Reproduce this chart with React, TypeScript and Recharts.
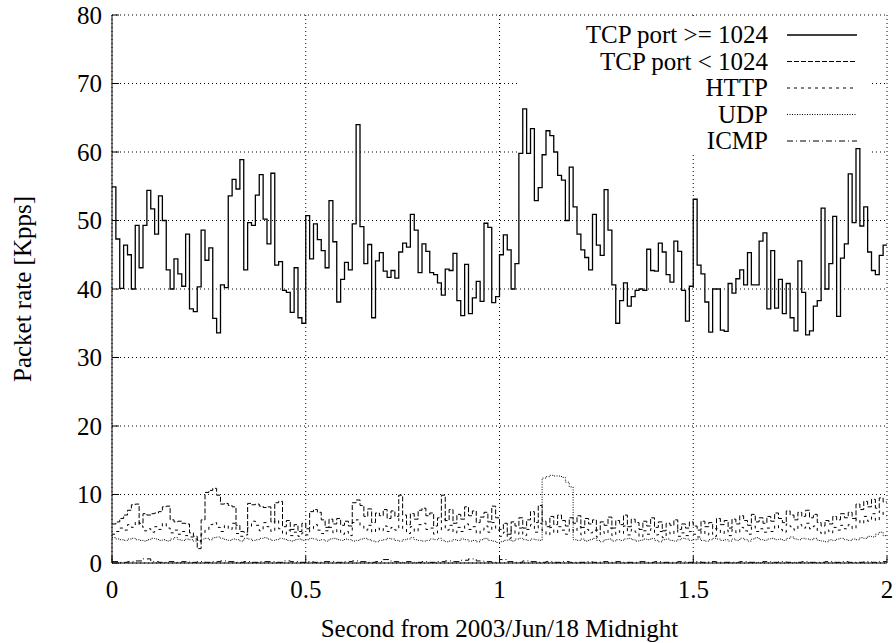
import { LineChart, Line, XAxis, YAxis, CartesianGrid, ReferenceArea } from 'recharts';

// packet rate, 10 ms bins (Kpps)
const tcpHigh = [
  54.9, 47.3, 40.1, 46.4, 45.0, 40.0, 49.3, 43.1, 49.3, 54.4,
  51.7, 48.0, 53.6, 50.0, 42.8, 40.0, 44.4, 42.2, 40.4, 48.0,
  37.1, 36.7, 40.3, 48.6, 44.2, 46.0, 35.7, 33.6, 40.6, 40.2,
  53.6, 56.0, 54.6, 58.9, 42.8, 49.7, 49.3, 53.7, 56.7, 50.2,
  46.6, 56.9, 43.5, 44.0, 39.8, 39.5, 36.6, 43.1, 35.8, 35.0,
  50.7, 44.4, 49.5, 47.2, 45.6, 43.1, 52.9, 46.9, 38.1, 41.4,
  43.9, 42.8, 49.5, 64.0, 49.1, 43.7, 46.5, 35.8, 44.1, 45.3,
  42.6, 41.7, 42.7, 41.6, 45.4, 46.7, 46.1, 50.9, 48.6, 42.4,
  46.6, 45.5, 42.4, 42.1, 40.9, 39.1, 42.9, 42.7, 45.2, 38.3,
  36.1, 43.6, 36.4, 38.7, 41.1, 38.2, 49.6, 49.0, 38.0, 38.9,
  45.0, 47.9, 45.7, 40.0, 43.7, 59.8, 66.3, 59.8, 63.4, 52.9,
  54.8, 59.6, 63.1, 62.4, 60.0, 56.6, 55.9, 50.0, 57.8, 52.0,
  48.0, 45.7, 44.6, 42.8, 50.9, 46.4, 44.9, 54.5, 48.6, 40.6,
  35.0, 38.3, 40.9, 37.5, 38.9, 39.8, 40.0, 39.8, 45.8, 42.7,
  42.6, 46.7, 45.4, 42.1, 41.0, 47.0, 45.5, 39.8, 35.3, 40.4,
  53.1, 43.5, 42.2, 38.1, 33.7, 40.0, 40.0, 34.0, 33.8, 40.8,
  39.4, 41.5, 42.8, 40.6, 45.3, 40.6, 40.6, 47.0, 48.2, 37.1,
  45.6, 37.2, 41.4, 36.4, 40.8, 35.8, 33.9, 44.1, 39.5, 33.3,
  33.9, 37.5, 38.3, 51.8, 40.0, 43.7, 50.6, 36.0, 44.5, 46.6,
  56.8, 49.7, 60.5, 49.2, 52.0, 45.4, 42.7, 42.1, 44.9, 46.4,
];

const tcpLow = [
  5.7, 6.0, 6.5, 7.0, 7.7, 8.5, 8.6, 5.8, 7.2, 7.0,
  7.2, 7.3, 7.5, 8.2, 8.3, 6.3, 6.0, 6.1, 5.8, 5.7,
  4.4, 3.9, 2.1, 6.3, 10.3, 10.6, 10.9, 9.9, 8.6, 8.7,
  8.4, 8.2, 5.5, 4.6, 4.5, 8.7, 8.5, 8.6, 8.3, 8.1,
  8.2, 6.0, 8.8, 9.0, 5.3, 6.2, 4.9, 5.6, 4.6, 5.8,
  5.0, 7.5, 7.8, 7.4, 6.3, 5.2, 6.4, 5.7, 6.5, 5.5,
  6.1, 5.4, 8.8, 9.2, 8.4, 6.8, 7.9, 5.9, 7.3, 6.9,
  7.8, 6.5, 7.6, 6.8, 9.9, 7.0, 5.6, 7.2, 6.4, 7.7,
  8.0, 6.9, 7.3, 5.4, 6.6, 9.9, 6.2, 7.8, 5.8, 7.1,
  6.4, 8.2, 6.9, 7.6, 5.9, 6.7, 7.4, 6.0, 8.3, 6.6,
  4.9, 5.8, 4.2, 6.0, 5.4, 6.6, 5.1, 6.3, 7.5, 5.9,
  8.4, 6.1, 5.3, 6.8, 5.6, 7.0, 6.2, 5.4, 6.6, 5.8,
  6.9, 5.2, 6.5, 5.7, 6.3, 4.8, 6.0, 5.5, 6.7, 5.1,
  6.2, 5.6, 7.0, 5.3, 6.4, 5.9, 4.9, 6.1, 5.4, 6.6,
  5.2, 6.0, 4.7, 5.8, 5.5, 6.3, 4.9, 5.7, 5.1, 6.0,
  5.4, 4.8, 6.1, 5.3, 5.9, 5.0, 6.5, 5.6, 6.2, 5.1,
  6.4, 5.7, 6.9, 6.2, 5.5, 7.1, 6.0, 6.6, 5.8, 6.8,
  6.1, 7.3, 6.5, 5.9, 7.6, 7.0, 6.3, 7.4, 6.8, 7.7,
  6.6, 7.1, 5.9, 5.4, 6.2, 5.7, 6.8, 6.3, 7.2, 6.6,
  7.4, 6.5, 8.6, 7.8, 9.0, 8.2, 9.3, 8.0, 9.5, 8.9,
];

const http = [
  4.2, 4.6, 5.1, 4.8, 5.6, 5.2, 6.0, 5.4, 4.7, 5.0,
  4.5, 5.3, 4.9, 5.8, 5.1, 4.4, 4.8, 4.2, 4.6, 4.0,
  3.8, 3.5, 3.1, 4.2, 4.8, 5.6, 5.9, 5.2, 4.6, 5.5,
  4.9, 5.8, 4.3, 3.9, 4.1, 5.2, 6.1, 5.5, 4.7, 5.9,
  5.3, 4.6, 6.2, 5.0, 4.2, 4.8, 4.0, 4.5, 3.9, 4.4,
  4.1, 5.0, 5.6, 4.8, 4.3, 4.7, 5.2, 4.4, 4.9, 4.2,
  4.6, 4.0, 5.9, 6.3, 5.4, 4.8, 5.5, 4.5, 5.1, 4.7,
  5.4, 4.6, 5.2, 4.8, 6.5, 5.0, 4.3, 5.3, 4.6, 5.6,
  5.8, 4.9, 5.1, 4.2, 4.7, 6.4, 4.8, 5.5, 4.4, 5.2,
  4.6, 5.7, 4.9, 5.3, 4.3, 4.8, 5.4, 4.5, 5.9, 4.8,
  3.9, 4.5, 3.6, 4.8, 4.2, 5.1, 4.0, 4.9, 5.6, 4.5,
  5.8, 4.7, 4.1, 5.2, 4.4, 5.3, 4.8, 4.2, 5.0, 4.6,
  5.3, 4.1, 4.9, 4.4, 4.8, 3.8, 4.6, 4.3, 5.1, 4.0,
  4.7, 4.3, 5.4, 4.1, 4.9, 4.5, 3.8, 4.7, 4.2, 5.0,
  4.1, 4.6, 3.7, 4.5, 4.2, 4.8, 3.9, 4.4, 4.0, 4.6,
  4.2, 3.8, 4.7, 4.1, 4.5, 3.9, 5.0, 4.3, 4.8, 4.0,
  4.9, 4.4, 5.2, 4.7, 4.2, 5.4, 4.6, 5.0, 4.5, 5.1,
  4.6, 5.5, 4.9, 4.5, 5.7, 5.3, 4.8, 5.6, 5.1, 5.8,
  5.0, 5.4, 4.5, 4.2, 4.8, 4.4, 5.2, 4.8, 5.5, 5.0,
  5.6, 5.0, 6.4, 5.8, 6.8, 6.1, 7.2, 6.2, 7.6, 6.9,
];

const udp = [
  3.7, 3.5, 3.4, 3.3, 3.5, 3.6, 3.4, 3.3, 3.2, 3.4,
  3.6, 3.5, 3.3, 3.4, 3.2, 3.5, 3.7, 3.4, 3.3, 3.5,
  3.4, 3.2, 3.3, 3.5, 3.6, 3.4, 3.7, 3.8, 3.6, 3.4,
  3.3, 3.5, 3.4, 3.2, 3.6, 3.5, 3.3, 3.4, 3.6, 3.7,
  3.5, 3.3, 3.4, 3.6, 3.5, 3.3, 3.2, 3.4, 3.5, 3.3,
  3.4, 3.6, 3.5, 3.3, 3.4, 3.2, 3.5, 3.6, 3.4, 3.3,
  3.5, 3.4, 3.2, 3.3, 3.5, 3.6, 3.4, 3.2, 3.1, 3.3,
  3.4, 3.6, 3.5, 3.3, 3.2, 3.4, 3.5, 3.7, 3.4, 3.3,
  3.2, 3.3, 3.5, 3.4, 3.6, 3.3, 3.1, 3.2, 3.4, 3.3,
  3.5, 3.4, 3.2, 3.3, 3.1, 3.4, 3.6, 3.3, 3.2, 3.0,
  3.1, 3.3, 3.4, 3.2, 3.5, 3.6, 3.4, 3.3, 3.5, 3.4,
  3.3, 12.4, 12.6, 12.8, 12.7, 12.7, 12.5, 11.8, 11.1, 3.4,
  3.3, 3.5, 3.2, 3.4, 3.6, 3.3, 3.1, 3.4, 3.5, 3.2,
  3.4, 3.3, 3.5, 3.6, 3.4, 3.2, 3.3, 3.5, 3.4, 3.6,
  3.3, 3.1, 3.4, 3.5, 3.3, 3.2, 3.4, 3.6, 3.5, 3.3,
  3.4, 3.5, 3.3, 3.2, 3.4, 3.6, 3.5, 3.3, 3.4, 3.2,
  3.5, 3.3, 3.6, 3.4, 3.2, 3.5, 3.7, 3.4, 3.3, 3.5,
  3.6, 3.4, 3.5, 3.3, 3.6, 3.8, 3.5, 3.4, 3.6, 3.5,
  3.4, 3.6, 3.3, 3.2, 3.1, 3.4, 3.3, 3.5, 3.6, 3.4,
  3.3, 3.5, 3.4, 3.7, 3.6, 3.9, 3.8, 4.2, 4.5, 4.0,
];

// ICMP, 20 ms bins
const icmp = [
  0.2, 0.1, 0.2, 0.3, 0.6, 0.2, 0.1, 0.2, 0.1, 0.2,
  0.1, 0.2, 0.1, 0.2, 0.3, 0.2, 0.1, 0.2, 0.1, 0.2,
  0.2, 0.1, 0.3, 0.2, 0.1, 0.2, 0.1, 0.2, 0.2, 0.1,
  0.2, 0.3, 0.2, 0.1, 0.2, 0.5, 0.2, 0.1, 0.2, 0.1,
  0.2, 0.1, 0.2, 0.3, 0.2, 0.4, 0.6, 0.3, 0.2, 0.1,
  0.5, 0.2, 0.1, 0.3, 0.2, 0.1, 0.2, 0.1, 0.2, 0.1,
  0.1, 0.2, 0.1, 0.2, 0.1, 0.2, 0.1, 0.1, 0.2, 0.1,
  0.2, 0.1, 0.1, 0.2, 0.1, 0.2, 0.1, 0.2, 0.1, 0.1,
  0.1, 0.2, 0.1, 0.1, 0.2, 0.1, 0.2, 0.1, 0.1, 0.2,
  0.1, 0.1, 0.2, 0.1, 0.2, 0.1, 0.1, 0.2, 0.1, 0.2,
];

const xTicks = [0, 0.5, 1, 1.5, 2];
const yTicks = [0, 10, 20, 30, 40, 50, 60, 70, 80];

const FONT = '"Liberation Serif", "Times New Roman", serif';

// step data: one point per bin start, plus the closing point at t = 2
const toSteps = (vals: number[], dt: number) => {
  const pts = vals.map((v, i) => ({ t: Math.round(i * dt * 1000) / 1000, v }));
  pts.push({ t: 2, v: vals[vals.length - 1] });
  return pts;
};

const series = [
  { name: 'TCP port >= 1024', data: toSteps(tcpHigh, 0.01), dash: undefined, width: 1.3 },
  { name: 'TCP port < 1024', data: toSteps(tcpLow, 0.01), dash: '5 2', width: 1 },
  { name: 'HTTP', data: toSteps(http, 0.01), dash: '3 4', width: 1 },
  { name: 'UDP', data: toSteps(udp, 0.01), dash: '1 1.5', width: 1 },
  { name: 'ICMP', data: toSteps(icmp, 0.02), dash: '6 3 1 3', width: 1 },
];

const noTick = () => <g />;

// key texts and samples; its white box is drawn inside the chart (under the lines)
function Key() {
  return (
    <svg
      width={348}
      height={135}
      style={{ position: 'absolute', left: 522, top: 18, pointerEvents: 'none' }}
    >
      {series.map((s, i) => (
        <g key={s.name}>
          <text
            x={246}
            y={25 + i * 26.5}
            textAnchor="end"
            fontFamily={FONT}
            fontSize={25}
            fill="#000"
          >
            {s.name}
          </text>
          <line
            x1={265}
            x2={335}
            y1={17 + i * 26.5}
            y2={17 + i * 26.5}
            stroke="#000"
            strokeWidth={s.width}
            strokeDasharray={s.dash}
          />
        </g>
      ))}
    </svg>
  );
}

export default function App() {
  return (
    <div style={{ position: 'absolute', left: 0, top: 0, width: 896, height: 643, background: '#fff' }}>
      <LineChart width={896} height={643} margin={{ top: 15, right: 9, bottom: 0, left: 0 }}>
        <CartesianGrid
          xAxisId="x"
          yAxisId="y"
          stroke="#000"
          strokeDasharray="1 3"
          strokeWidth={1}
        />
        <ReferenceArea
          xAxisId="x"
          yAxisId="y"
          x1={1.053}
          x2={1.955}
          y1={59.8}
          y2={79.5}
          fill="#fff"
          fillOpacity={1}
          stroke="none"
        />
        <XAxis
          xAxisId="x"
          dataKey="t"
          type="number"
          domain={[0, 2]}
          ticks={xTicks}
          allowDataOverflow
          height={80}
          tickSize={-7}
          tickMargin={24}
          axisLine={{ stroke: '#000' }}
          tickLine={{ stroke: '#000' }}
          tick={{ fontSize: 25, fill: '#000', fontFamily: FONT }}
          label={{
            value: 'Second from 2003/Jun/18 Midnight',
            position: 'insideBottom',
            offset: 6,
            style: { fontSize: 25, fill: '#000', fontFamily: FONT },
          }}
        />
        <XAxis
          xAxisId="top"
          orientation="top"
          type="number"
          domain={[0, 2]}
          ticks={xTicks}
          allowDataOverflow
          height={0}
          tickSize={-7}
          axisLine={{ stroke: '#000' }}
          tickLine={{ stroke: '#000' }}
          tick={noTick}
        />
        <YAxis
          yAxisId="y"
          type="number"
          domain={[0, 80]}
          ticks={yTicks}
          allowDataOverflow
          width={112}
          tickSize={-7}
          tickMargin={17}
          axisLine={{ stroke: '#000' }}
          tickLine={{ stroke: '#000' }}
          tick={{ fontSize: 25, fill: '#000', fontFamily: FONT }}
          label={{
            value: 'Packet rate [Kpps]',
            angle: -90,
            position: 'insideLeft',
            offset: 22,
            style: { fontSize: 25, fill: '#000', fontFamily: FONT, textAnchor: 'middle' },
          }}
        />
        <YAxis
          yAxisId="right"
          orientation="right"
          type="number"
          domain={[0, 80]}
          ticks={yTicks}
          allowDataOverflow
          width={0}
          tickSize={-7}
          axisLine={{ stroke: '#000' }}
          tickLine={{ stroke: '#000' }}
          tick={noTick}
        />
        {series.map((s) => (
          <Line
            key={s.name}
            xAxisId="x"
            yAxisId="y"
            data={s.data}
            dataKey="v"
            name={s.name}
            type="stepAfter"
            stroke="#000"
            strokeWidth={s.width}
            strokeDasharray={s.dash}
            dot={false}
            activeDot={false}
            isAnimationActive={false}
          />
        ))}
      </LineChart>
      <Key />
    </div>
  );
}
